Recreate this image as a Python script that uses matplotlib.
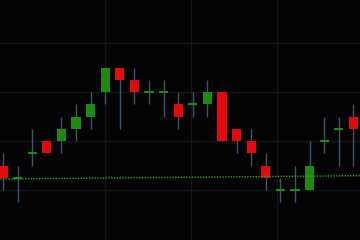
import matplotlib
matplotlib.use("Agg")
import matplotlib.pyplot as plt
import numpy as np

# цены свечей (в условных шагах цены)
opens = [2, 1, 3, 4, 4, 5, 6, 8, 10, 9, 8, 8, 7, 7, 7, 8, 5, 4, 2, 0, 0, 0, 4, 5, 6]
highs = [3, 2, 5, 4, 6, 7, 8, 10, 10, 10, 9, 9, 8, 8, 9, 8, 5, 5, 3, 1, 2, 4, 6, 6, 7]
lows = [0, -1, 2, 3, 3, 4, 5, 7, 5, 7, 7, 6, 5, 6, 6, 4, 3, 2, 0, -1, -1, 0, 3, 2, 2]
closes = [1, 1, 3, 3, 5, 6, 7, 10, 9, 8, 8, 8, 6, 7, 8, 4, 4, 3, 1, 0, 0, 2, 4, 5, 5]

# пунктирная линия тренда
trend_x = [-0.2, 24.45]
trend_y = [0.9, 1.17]

grid_x = [7, 12.88, 18.77]
grid_y = [0, 4, 8, 12]

bg = "#040404"
up_color = "#1f8a12"
down_color = "#e20a0a"
wick_color = "#3a5470"
body_w = 0.62

fig = plt.figure(figsize=(3.6, 2.4), dpi=100, facecolor=bg)
ax = fig.add_axes([0, 0, 1, 1])
ax.set_facecolor(bg)

for gx in grid_x:
    ax.axvline(gx, color="#12161a", lw=1, zorder=0)
for gy in grid_y:
    ax.axhline(gy, color="#12161a", lw=1, zorder=0)

x = np.arange(len(opens))
for i in x:
    o, h, l, c = opens[i], highs[i], lows[i], closes[i]
    ax.vlines(i, l, h, color=wick_color, lw=1, zorder=1)
    if c > o:
        ax.bar(i, c - o, bottom=o, width=body_w, color=up_color, zorder=2)
    elif c < o:
        ax.bar(i, o - c, bottom=c, width=body_w, color=down_color, zorder=2)
    else:
        ax.hlines(o, i - body_w / 2, i + body_w / 2, color=up_color, lw=1.5, zorder=2)

ax.plot(trend_x, trend_y, color="#22a81a", lw=1, ls=(0, (1, 1)), zorder=3)

ax.set_xlim(-0.205, 24.45)
ax.set_ylim(-4.08, 15.51)
ax.axis("off")

fig.savefig("out.png", dpi=100, facecolor=bg)
